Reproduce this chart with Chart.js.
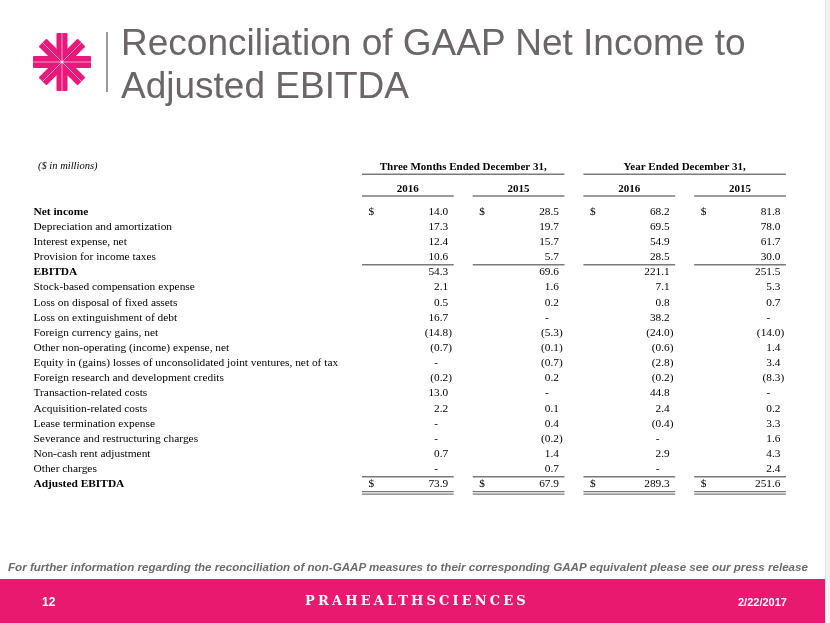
<!DOCTYPE html>
<html>
<head>
<meta charset="utf-8">
<script src="https://cdn.jsdelivr.net/npm/chart.js@4.4.0/dist/chart.umd.min.js"></script>
<style>
  html, body { margin: 0; padding: 0; background: #fff; }
  #slide { position: relative; width: 830px; height: 623px; overflow: hidden; background: #fff; }
  #table-wrap { position: absolute; left: 0; top: 0; width: 830px; height: 623px; }
  .title { position: absolute; left: 121px; top: 21px; font: 37px/43px "Liberation Sans", Arial, sans-serif; color: #6b6566; }
  .sep { position: absolute; left: 106px; top: 32px; width: 1.5px; height: 60px; background: #9a9a9a; }
  .logo { position: absolute; left: 31px; top: 31px; }
  .note { position: absolute; left: 8px; top: 560px; font: italic bold 11.6px "Liberation Sans", Arial, sans-serif; color: #6b6b6b; white-space: nowrap; }
  .band { position: absolute; left: 0; top: 579px; width: 826px; height: 44px; background: #e9196f; color: #fff; }
  .band .num { position: absolute; left: 42px; top: 16px; font: bold 12px "Liberation Sans", Arial, sans-serif; }
  .band .brand { position: absolute; left: 0; width: 834px; top: 14px; text-align: center; font: bold 13px "DejaVu Serif", serif; letter-spacing: 3.15px; }
  .band .date { position: absolute; left: 738px; top: 17px; font: bold 11px "Liberation Sans", Arial, sans-serif; }
  .edge { position: absolute; right: 0; top: 0; width: 4px; height: 623px; background: #f3f3f3; border-left: 1px solid #e2e2e2; }
</style>
</head>
<body>
<div id="slide">
  <div id="table-wrap"><canvas id="recon"></canvas></div>
  <svg class="logo" width="62" height="62" viewBox="-31 -31 62 62">
    <g fill="#e8197a">
      <rect x="-5.5" y="-29" width="11" height="58" rx="1"/>
      <rect x="-6" y="-29" width="12" height="58" rx="1" transform="rotate(90)"/>
      <rect x="-5.5" y="-27.5" width="11" height="55" rx="1" transform="rotate(45)"/>
      <rect x="-5.5" y="-27.5" width="11" height="55" rx="1" transform="rotate(-45)"/>
    </g>
    <g stroke="#ffffff" stroke-width="0.7" opacity="0.8">
      <line x1="0" y1="-29" x2="0" y2="29"/>
      <line x1="-29" y1="0" x2="29" y2="0"/>
      <line x1="-19.5" y1="-19.5" x2="19.5" y2="19.5"/>
      <line x1="-19.5" y1="19.5" x2="19.5" y2="-19.5"/>
    </g>
    <circle cx="0" cy="0" r="1.3" fill="#fff"/>
  </svg>
  <div class="sep"></div>
  <div class="title">Reconciliation of GAAP Net Income to<br>Adjusted EBITDA</div>
  <div class="note">For further information regarding the reconciliation of non-GAAP measures to their corresponding GAAP equivalent please see our press release</div>
  <div class="band">
    <div class="num">12</div>
    <div class="brand">PRAHEALTHSCIENCES</div>
    <div class="date">2/22/2017</div>
  </div>
  <div class="edge"></div>
</div>
<script>
// rows of the reconciliation ($ in millions), null = "-"
const rowLabels = [
  'Net income',
  'Depreciation and amortization',
  'Interest expense, net',
  'Provision for income taxes',
  'EBITDA',
  'Stock-based compensation expense',
  'Loss on disposal of fixed assets',
  'Loss on extinguishment of debt',
  'Foreign currency gains, net',
  'Other non-operating (income) expense, net',
  'Equity in (gains) losses of unconsolidated joint ventures, net of tax',
  'Foreign research and development credits',
  'Transaction-related costs',
  'Acquisition-related costs',
  'Lease termination expense',
  'Severance and restructuring charges',
  'Non-cash rent adjustment',
  'Other charges',
  'Adjusted EBITDA'
];
const boldRows = ['Net income', 'EBITDA', 'Adjusted EBITDA'];
const dollarRows = ['Net income', 'Adjusted EBITDA'];

const periodLabels = ['Three Months Ended December 31,', 'Year Ended December 31,'];
const yearLabels = ['2016', '2015', '2016', '2015'];

const q4_2016 = [14.0, 17.3, 12.4, 10.6, 54.3, 2.1, 0.5, 16.7, -14.8, -0.7, null, -0.2, 13.0, 2.2, null, null, 0.7, null, 73.9];
const q4_2015 = [28.5, 19.7, 15.7, 5.7, 69.6, 1.6, 0.2, null, -5.3, -0.1, -0.7, 0.2, null, 0.1, 0.4, -0.2, 1.4, 0.7, 67.9];
const fy_2016 = [68.2, 69.5, 54.9, 28.5, 221.1, 7.1, 0.8, 38.2, -24.0, -0.6, -2.8, -0.2, 44.8, 2.4, -0.4, null, 2.9, null, 289.3];
const fy_2015 = [81.8, 78.0, 61.7, 30.0, 251.5, 5.3, 0.7, null, -14.0, 1.4, 3.4, -8.3, null, 0.2, 3.3, 1.6, 4.3, 2.4, 251.6];

const columns = [q4_2016, q4_2015, fy_2016, fy_2015];

const SERIF = '"Liberation Serif", "Times New Roman", serif';

// draws headers, cell values and the rules, all placed off the chart scales
const tableCells = {
  id: 'tableCells',
  afterDraw(chart) {
    const { ctx } = chart;
    const x = chart.scales.x, y = chart.scales.y;
    const colW = x.getPixelForValue(1) - x.getPixelForValue(0);
    const half = colW / 2 - 9.5;
    const top = y.getPixelForValue(0);
    const step = y.getPixelForValue(1) - top;

    const rule = (x1, x2, yy, w) => {
      ctx.beginPath();
      ctx.lineWidth = w || 1.4;
      ctx.strokeStyle = '#7a7a7a';
      ctx.moveTo(x1, yy);
      ctx.lineTo(x2, yy);
      ctx.stroke();
    };

    ctx.save();
    ctx.fillStyle = '#000';
    ctx.textBaseline = 'middle';

    ctx.font = 'italic 10.5px ' + SERIF;
    ctx.textAlign = 'left';
    ctx.fillText('($ in millions)', 38, top - 45);

    ctx.font = 'bold 11px ' + SERIF;
    ctx.textAlign = 'center';
    periodLabels.forEach((lab, g) => {
      const l = x.getPixelForValue(g * 2 + 0.5) - half;
      const r = x.getPixelForValue(g * 2 + 1.5) + half;
      ctx.fillText(lab, (l + r) / 2, top - 44.5);
      rule(l, r, top - 37.4);
    });
    yearLabels.forEach((yr, i) => {
      const c = x.getPixelForValue(i + 0.5);
      ctx.fillText(yr, c, top - 22.5);
      rule(c - half, c + half, top - 15.7);
    });

    ctx.font = '11.3px ' + SERIF;
    columns.forEach((vals, i) => {
      const c = x.getPixelForValue(i + 0.5);
      const right = c + half - 5.5;
      vals.forEach((v, r) => {
        const yy = y.getPixelForValue(r);
        if (dollarRows.includes(rowLabels[r])) {
          ctx.textAlign = 'left';
          ctx.fillText('$', c - half + 6.5, yy);
        }
        if (v === null) {
          ctx.textAlign = 'center';
          ctx.fillText('-', right - 12, yy);
        } else if (v < 0) {
          ctx.textAlign = 'right';
          ctx.fillText('(' + (-v).toFixed(1), right, yy);
          ctx.textAlign = 'left';
          ctx.fillText(')', right, yy);
        } else {
          ctx.textAlign = 'right';
          ctx.fillText(v.toFixed(1), right, yy);
        }
      });
      rule(c - half, c + half, y.getPixelForValue(3) + step / 2);
      rule(c - half, c + half, y.getPixelForValue(17) + step / 2);
      rule(c - half, c + half, y.getPixelForValue(18) + step / 2 - 0.3, 1.1);
      rule(c - half, c + half, y.getPixelForValue(18) + step / 2 + 2.2, 1.1);
    });
    ctx.restore();
  }
};

// one invisible point per cell, so every cell sits on the scales
const datasets = columns.map((vals, i) => ({
  label: yearLabels[i],
  data: vals.map((v, r) => ({ x: i + 0.5, y: r })),
  pointRadius: 0,
  showLine: false
}));

new Chart(document.getElementById('recon'), {
  type: 'scatter',
  data: { labels: rowLabels, datasets: datasets },
  options: {
    responsive: true,
    maintainAspectRatio: false,
    animation: false,
    events: [],
    layout: { padding: { left: 33.5, right: 34.6, top: 204.1, bottom: 131.1 } },
    plugins: { legend: { display: false }, tooltip: { enabled: false } },
    scales: {
      x: { type: 'linear', min: 0, max: 4, display: false },
      y: {
        type: 'category',
        labels: rowLabels,
        offset: true,
        grid: { display: false },
        border: { display: false },
        afterFit: (scale) => { scale.width = 319; },
        ticks: {
          autoSkip: false,
          crossAlign: 'far',
          color: '#000',
          font: (c) => ({
            family: SERIF,
            size: 11.4,
            weight: boldRows.includes(rowLabels[c.index]) ? 'bold' : 'normal'
          })
        }
      }
    }
  },
  plugins: [tableCells]
});
</script>
</body>
</html>
